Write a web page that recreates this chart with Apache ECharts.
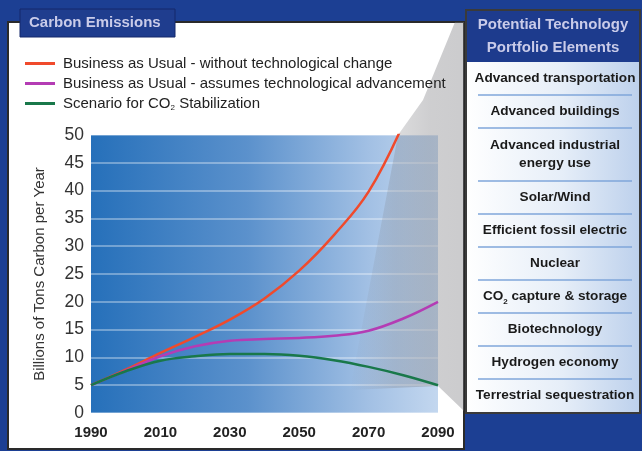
<!DOCTYPE html>
<html><head><meta charset="utf-8">
<script src="https://cdn.jsdelivr.net/npm/echarts@6/dist/echarts.min.js"></script>
<style>html,body{margin:0;padding:0;background:#1c3f93}#c{width:642px;height:451px}</style>
</head><body><div id="c"></div><script>
// ---- data ----
const years = [1990, 2000, 2010, 2020, 2030, 2040, 2050, 2060, 2070, 2080, 2090];
const bauNoTech = [5, 7.8, 10.8, 13.7, 16.8, 20.6, 25.6, 32, 39.8, 52, null];
const bauTech = [5, 7.6, 10.2, 12, 13, 13.3, 13.5, 13.9, 14.8, 17, 20];
const stabilization = [5, 7.5, 9.4, 10.2, 10.6, 10.6, 10.3, 9.5, 8.3, 6.8, 5];
const seriesNames = [
  'Business as Usual - without technological change',
  'Business as Usual - assumes technological advancement',
  'Scenario for CO2 Stabilization'
];
const seriesColors = ['#f04a2c', '#b43cb4', '#19784a'];
const chartTitle = 'Carbon Emissions';
const yAxisTitle = 'Billions of Tons Carbon per Year';
const panelTitle = 'Potential Technology\nPortfolio Elements';
const portfolioItems = [
  'Advanced transportation',
  'Advanced buildings',
  'Advanced industrial\nenergy use',
  'Solar/Wind',
  'Efficient fossil electric',
  'Nuclear',
  'CO{s|2} capture & storage',
  'Biotechnology',
  'Hydrogen economy',
  'Terrestrial sequestration'
];

const FONT = "'Liberation Sans', Arial, sans-serif";
const chart = echarts.init(document.getElementById('c'), null, {renderer: 'canvas'});

// ---- decorative graphics ----
const graphics = [];
graphics.push({type: 'rect', z: -20, shape: {x: 8, y: 22, width: 456, height: 427},
  style: {fill: '#ffffff', stroke: '#2a2a2a', lineWidth: 2}});
graphics.push({type: 'polygon', z: 10, silent: true,
  shape: {points: [[455, 22], [464, 22], [464, 411], [438, 386], [350, 390], [398, 135], [423, 100]]},
  style: {fill: new echarts.graphic.LinearGradient(0, 0, 1, 0, [
    {offset: 0, color: 'rgba(120,120,125,0.0)'},
    {offset: 0.4, color: 'rgba(120,120,125,0.26)'},
    {offset: 0.7, color: 'rgba(120,120,125,0.36)'},
    {offset: 1, color: 'rgba(120,120,125,0.38)'}])}});
graphics.push({type: 'rect', z: 25, shape: {x: 20, y: 9, width: 155, height: 28},
  style: {fill: '#1f3d8e', stroke: '#15296a', lineWidth: 1}});
graphics.push({type: 'text', z: 26, x: 29, y: 23,
  style: {text: chartTitle, fill: '#c9cbe9', font: 'bold 15px ' + FONT, textVerticalAlign: 'middle'}});
graphics.push({type: 'rect', z: 25, shape: {x: 466, y: 10, width: 174, height: 403},
  style: {fill: new echarts.graphic.LinearGradient(0, 0, 1, 0, [
    {offset: 0, color: '#ffffff'}, {offset: 0.55, color: '#e6eef8'}, {offset: 1, color: '#bcd0ec'}]),
    stroke: '#3a3a3a', lineWidth: 2}});
graphics.push({type: 'rect', z: 26, shape: {x: 467, y: 11, width: 172, height: 51},
  style: {fill: '#1d3b8d'}});
graphics.push({type: 'text', z: 27, x: 553, y: 36,
  style: {text: panelTitle, fill: '#c9cbe9', font: 'bold 15px ' + FONT,
    textAlign: 'center', textVerticalAlign: 'middle', lineHeight: 23}});
let yy = 62;
portfolioItems.forEach((t, i) => {
  const h = t.indexOf('\n') >= 0 ? 53 : 33;
  graphics.push({type: 'text', z: 27, x: 555, y: yy + h / 2,
    style: {text: t, fill: '#1a1a1a', font: 'bold 13.6px ' + FONT,
      textAlign: 'center', textVerticalAlign: 'middle', lineHeight: 18,
      rich: {s: {fontSize: 8, fontWeight: 'bold', fontFamily: FONT, fill: '#1a1a1a', verticalAlign: 'bottom', padding: [7, 0, 0, 0]}}}});
  yy += h;
  if (i < portfolioItems.length - 1) {
    graphics.push({type: 'line', z: 27, shape: {x1: 478, y1: yy, x2: 632, y2: yy},
      style: {stroke: '#7fa6da', lineWidth: 1.5}});
  }
});

const mk = arr => years.map((y, i) => [y, arr[i]]);

chart.setOption({
  animation: false,
  backgroundColor: '#1c3f93',
  grid: {left: 91, right: 204, top: 135, bottom: 38, show: true, borderWidth: 0,
    backgroundColor: new echarts.graphic.LinearGradient(0, 0, 1, 0, [
      {offset: 0, color: '#2670ba'}, {offset: 0.45, color: '#5b91cc'},
      {offset: 0.8, color: '#a2c0e4'}, {offset: 1, color: '#c3d7ef'}])},
  legend: {
    left: 20, top: 51, orient: 'vertical', itemGap: 5, itemWidth: 30, itemHeight: 15, z: 30,
    icon: 'path://M0,0 L30,0 L30,3 L0,3 Z',
    data: seriesNames,
    formatter: n => n.replace('CO2', 'CO{sub|2}'),
    textStyle: {fontSize: 15, color: '#222', fontFamily: FONT, padding: [0, 0, 0, 3],
      rich: {sub: {fontSize: 8, color: '#222', fontFamily: FONT, verticalAlign: 'bottom', padding: [8, 0, 0, 0]}}}
  },
  xAxis: {
    type: 'value', min: 1990, max: 2090, interval: 10,
    axisLine: {show: false}, axisTick: {show: false}, splitLine: {show: false},
    axisLabel: {margin: 12, fontSize: 15, fontWeight: 'bold', color: '#222', fontFamily: FONT,
      formatter: v => ((v - 1990) % 20 === 0 ? String(v) : '')}
  },
  yAxis: {
    type: 'value', min: 0, max: 50, interval: 5,
    name: yAxisTitle, nameLocation: 'middle', nameGap: 44, nameRotate: 90,
    nameTextStyle: {fontSize: 15, color: '#333', fontFamily: FONT},
    axisLine: {show: false}, axisTick: {show: false},
    axisLabel: {margin: 7, fontSize: 17.5, color: '#333', fontFamily: FONT},
    splitLine: {lineStyle: {color: 'rgba(255,255,255,0.45)', width: 1.5}}
  },
  series: [bauNoTech, bauTech, stabilization].map((arr, i) => ({
    type: 'line', name: seriesNames[i], data: mk(arr), smooth: 0.4,
    showSymbol: false, clip: true, z: 20,
    lineStyle: {color: seriesColors[i], width: 2.5}, itemStyle: {color: seriesColors[i]}
  })),
  graphic: {elements: graphics}
});
</script></body></html>
